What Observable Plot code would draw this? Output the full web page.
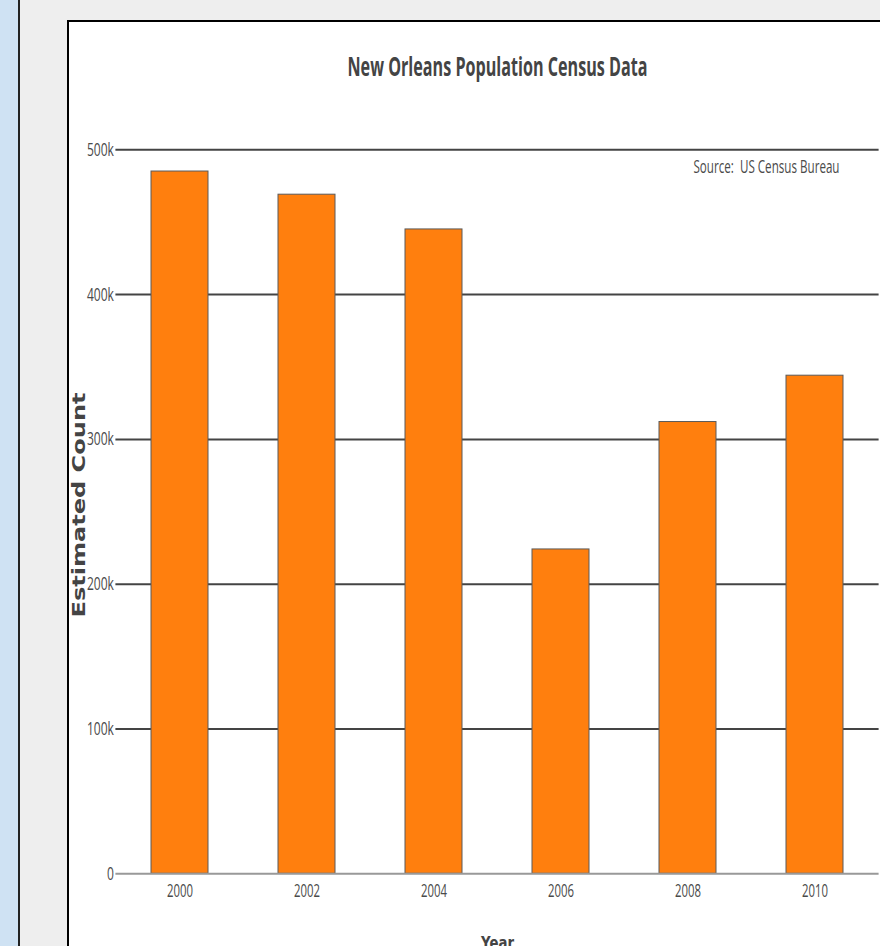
<!DOCTYPE html>
<html>
<head>
<meta charset="utf-8">
<script src="https://cdn.jsdelivr.net/npm/d3@7"></script>
<script src="https://cdn.jsdelivr.net/npm/@observablehq/plot@0.6"></script>
<style>
  html, body { margin: 0; padding: 0; width: 880px; height: 946px; overflow: hidden; background: #eeeeee; }
  #sidebar { position: absolute; left: 0; top: 0; width: 18px; height: 946px; background: #cfe2f3; border-right: 2px solid #222; }
  #panel { position: absolute; left: 67px; top: 20px; width: 900px; height: 1000px; background: #fff; border: 2px solid #000; }
  #chart { position: absolute; left: 0; top: 0; }
</style>
</head>
<body>
<div id="sidebar"></div>
<div id="panel"><div id="chart"></div></div>
<script>
// New Orleans estimated population by census year
const years = ["2000", "2002", "2004", "2006", "2008", "2010"];
const population = [485000, 469000, 445000, 224000, 312000, 344000];

// y-axis ticks and their labels
const yTicks = [0, 100000, 200000, 300000, 400000, 500000];
const yTickLabels = ["0", "100k", "200k", "300k", "400k", "500k"];

const title = "New Orleans Population Census Data";
const sourceNote = "Source:  US Census Bureau";
const xTitle = "Year";
const yTitle = "Estimated Count";

const rows = years.map((year, i) => ({year, value: population[i]}));

const W = 811, H = 924;
const condensed = "'Open Sans', sans-serif";

const chart = Plot.plot({
  width: W,
  height: H,
  marginLeft: 46.4,
  marginRight: 1.4,
  marginTop: 127.3,
  marginBottom: 72.7,
  style: {background: "transparent", overflow: "visible"},
  x: {type: "band", domain: years, paddingInner: 0.554, paddingOuter: 0.277, axis: null},
  y: {domain: [0, 500000], axis: null},
  marks: [
    // horizontal grid
    Plot.ruleY(yTicks.filter(d => d > 0), {stroke: "#444", strokeWidth: 2}),
    // bars
    Plot.barY(rows, {x: "year", y: "value", fill: "#ff7f0e", stroke: "#5a5a5a", strokeWidth: 1}),
    // zero line
    Plot.ruleY([0], {stroke: "#999", strokeWidth: 2}),
    // y tick labels
    Plot.text(yTicks, {
      y: d => d, text: (d, i) => yTickLabels[i], frameAnchor: "left", textAnchor: "end",
      lineAnchor: "bottom", dx: -2, dy: 6, fontSize: 18, fontFamily: condensed, fill: "#4a4a4a",
      className: "ytick"
    }),
    // x tick labels
    Plot.text(years, {
      x: d => d, text: d => d, frameAnchor: "bottom", lineAnchor: "bottom", dy: 22.7,
      fontSize: 19, fontFamily: condensed, fill: "#4a4a4a", className: "xtick"
    }),
    // title
    Plot.text([title], {
      text: d => d, frameAnchor: "top", lineAnchor: "bottom", dy: -73.8,
      fontSize: 27, fontWeight: 700, fontFamily: condensed, fill: "#444", className: "ctitle"
    }),
    // source annotation
    Plot.text([sourceNote], {
      text: d => d, frameAnchor: "top-right", textAnchor: "end", lineAnchor: "bottom",
      dx: -39.6, dy: 22.7, fontSize: 18, fontFamily: condensed, fill: "#4a4a4a", className: "csource"
    }),
    // x axis title
    Plot.text([xTitle], {
      text: d => d, frameAnchor: "bottom", lineAnchor: "bottom", dy: 74.7,
      fontSize: 18, fontWeight: 700, fontFamily: "'DejaVu Sans', sans-serif", fill: "#444", className: "cxtitle"
    }),
    // y axis title
    Plot.text([yTitle], {
      text: d => d, frameAnchor: "left", rotate: -90, textAnchor: "middle", lineAnchor: "bottom",
      dx: -30.5, dy: -6.8, fontSize: 17, fontWeight: 700, fontFamily: "'DejaVu Sans', sans-serif",
      fill: "#444", className: "cytitle"
    })
  ]
});

document.getElementById("chart").appendChild(chart);

// Narrow the lettering to the set widths (condensed look)
function fitWidth(selector, targetOf) {
  const nodes = chart.querySelectorAll(selector);
  nodes.forEach((node, i) => {
    const w = targetOf(node, i);
    if (w) {
      node.setAttribute("textLength", w);
      node.setAttribute("lengthAdjust", "spacingAndGlyphs");
    }
  });
}
function scaleGroup(selector, refWidth) {
  const nodes = Array.from(chart.querySelectorAll(selector));
  const widths = nodes.map(n => n.getComputedTextLength());
  const maxW = Math.max(...widths);
  const k = refWidth / maxW;
  fitWidth(selector, (n, i) => widths[i] * k);
}
scaleGroup("g.ytick text", 27);
scaleGroup("g.xtick text", 26);
fitWidth("g.ctitle text", () => 300);
fitWidth("g.csource text", () => 146);
fitWidth("g.cxtitle text", () => 33);
fitWidth("g.cytitle text", () => 225);
</script>
</body>
</html>
